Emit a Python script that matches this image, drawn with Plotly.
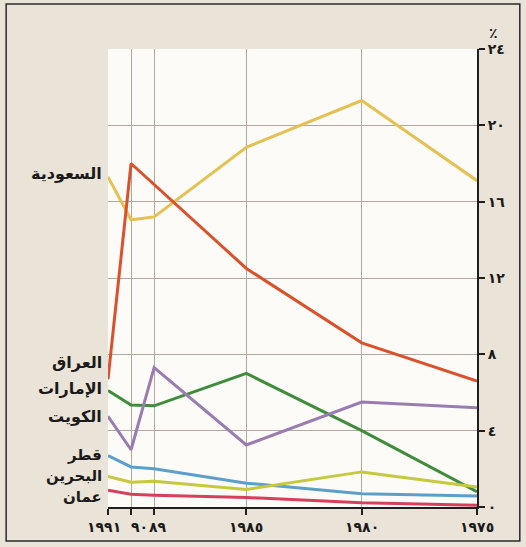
import plotly.graph_objects as go

years = [1991, 1990, 1989, 1985, 1980, 1975]
saudi = [17.3, 15.05, 15.2, 18.85, 21.3, 17.1]
iraq = [6.7, 18.0, None, 12.5, 8.6, 6.6]
uae = [6.1, 5.35, 5.3, 7.0, 4.0, 0.8]
kuwait = [4.75, 3.0, 7.3, 3.25, 5.5, 5.2]
qatar = [2.7, 2.1, 2.0, 1.25, 0.7, 0.57]
bahrain = [1.6, 1.3, 1.35, 0.92, 1.84, 1.05]
oman = [0.88, 0.67, 0.62, 0.5, 0.22, 0.09]

series_names = ["السعودية", "العراق", "الإمارات", "الكويت", "قطر", "البحرين", "عمان"]
label_y = [17.5, 7.55, 6.2, 4.75, 2.7, 1.62, 0.55]
label_size = [16, 16, 16, 16, 15, 15, 15]

x_tickvals = [1991, 1990, 1989, 1985, 1980, 1975]
x_ticktext = ["١٩٩١", "٩٠", "٨٩", "١٩٨٥", "١٩٨٠", "١٩٧٥"]
x_label_shift = [-4, 8, 4, 0, 0, 0]
y_tickvals = [0, 4, 8, 12, 16, 20, 24]
y_ticktext = ["٠", "٤", "٨", "١٢", "١٦", "٢٠", "٢٤"]

colors = ["#e5c153", "#d9522b", "#3f8c3a", "#9a7cb0", "#5c9fcb", "#c6c93c", "#d6405c"]
data = [saudi, iraq, uae, kuwait, qatar, bahrain, oman]

FONT = "DejaVu Sans"
TXT = "#1a1a1a"
fig = go.Figure()
for name, vals, c in zip(series_names, data, colors):
    fig.add_trace(go.Scatter(x=years, y=vals, mode="lines", name=name,
                             line=dict(color=c, width=3), connectgaps=True,
                             showlegend=False, hoverinfo="skip"))

for name, ly, fs in zip(series_names, label_y, label_size):
    fig.add_annotation(x=-0.012, xref="paper", y=ly, yref="y", text=name,
                       showarrow=False, xanchor="right", yanchor="middle",
                       font=dict(family=FONT, size=fs, color=TXT, weight="bold"))

for xv, xt, xs in zip(x_tickvals, x_ticktext, x_label_shift):
    fig.add_annotation(x=xv, xref="x", y=0, yref="paper", text=xt, xshift=xs,
                       yshift=-10, showarrow=False, xanchor="center", yanchor="top",
                       font=dict(family=FONT, size=14, color=TXT, weight="bold"))

fig.add_annotation(x=1.045, xref="paper", y=1.035, yref="paper", text="٪",
                   showarrow=False, xanchor="center", yanchor="middle",
                   font=dict(family=FONT, size=14, color=TXT, weight="bold"))

fig.add_shape(type="rect", xref="paper", yref="paper",
              x0=-0.276, x1=1.116, y0=-0.074, y1=1.098,
              line=dict(color="#2a2a2a", width=1.5), layer="below")

fig.update_layout(
    width=526, height=547,
    margin=dict(l=108, r=49, t=49, b=40),
    paper_bgcolor="#e9e3d8",
    plot_bgcolor="#fcfbf8",
    xaxis=dict(range=[1991, 1975], tickvals=x_tickvals, showticklabels=False,
               showgrid=True, gridcolor="#b3a8a0", gridwidth=1,
               showline=True, linecolor="#1f1f1f", linewidth=2,
               ticks="outside", ticklen=6, tickcolor="#1f1f1f", tickwidth=1.5,
               zeroline=False),
    yaxis=dict(range=[0, 24], side="right", tickvals=y_tickvals, ticktext=y_ticktext,
               showgrid=True, gridcolor="#b3a8a0", gridwidth=1,
               showline=True, linecolor="#1f1f1f", linewidth=2,
               ticks="outside", ticklen=6, tickcolor="#1f1f1f", tickwidth=1.5,
               zeroline=False,
               tickfont=dict(family=FONT, size=14, color=TXT, weight="bold")),
)

fig.write_html("out.html", config={"displayModeBar": False},
               post_script="document.body.style.margin='0';document.body.style.padding='0';")
